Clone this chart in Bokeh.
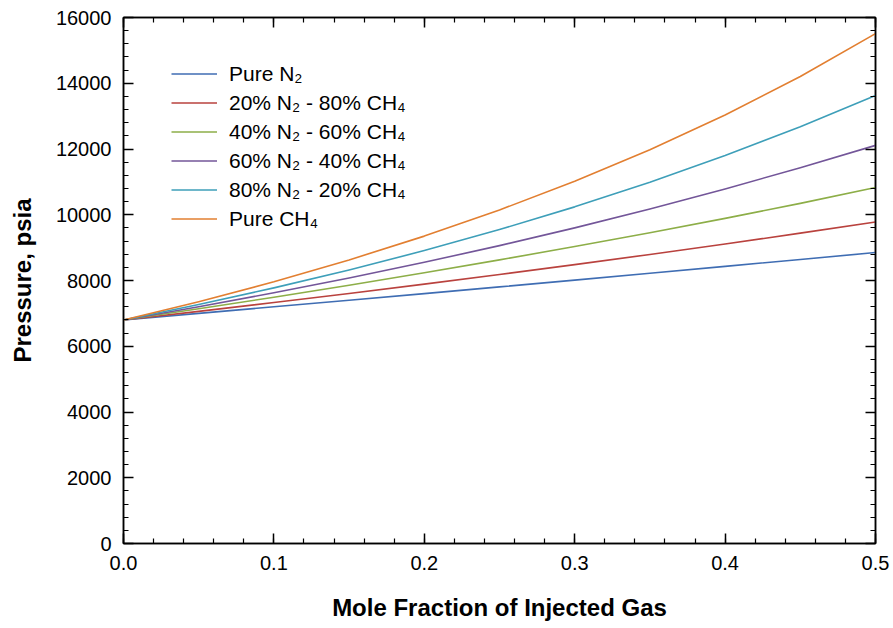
from bokeh.plotting import figure
from bokeh.models import (LinearAxis, Range1d, Legend, LegendItem, NumeralTickFormatter,
                          FixedTicker, CustomJSTickFormatter)
from bokeh.embed import file_html
from bokeh.resources import INLINE

# Data
mole_fraction = [0.0, 0.05, 0.1, 0.15, 0.2, 0.25, 0.3, 0.35, 0.4, 0.45, 0.5]
pure_n2 = [6800, 7000, 7200, 7400, 7602, 7806, 8012, 8220, 8430, 8640, 8850]
n2_20_ch4_80 = [6800, 7062, 7331, 7607, 7891, 8183, 8483, 8792, 9110, 9440, 9780]
n2_40_ch4_60 = [6800, 7140, 7492, 7857, 8235, 8627, 9033, 9454, 9890, 10345, 10830]
n2_60_ch4_40 = [6800, 7200, 7625, 8075, 8553, 9061, 9601, 10175, 10785, 11430, 12110]
n2_80_ch4_20 = [6800, 7270, 7775, 8320, 8910, 9550, 10240, 10990, 11800, 12675, 13630]
pure_ch4 = [6800, 7355, 7960, 8625, 9350, 10145, 11020, 11980, 13035, 14205, 15510]

series_names = ["Pure N₂", "20% N₂ - 80% CH₄", "40% N₂ - 60% CH₄",
                "60% N₂ - 40% CH₄", "80% N₂ - 20% CH₄", "Pure CH₄"]
series_values = [pure_n2, n2_20_ch4_80, n2_40_ch4_60, n2_60_ch4_40, n2_80_ch4_20, pure_ch4]
colors = ["#3F6DB3", "#B9423E", "#8DAE48", "#735699", "#3E9FB9", "#E27F31"]

x_ticks = [0.0, 0.1, 0.2, 0.3, 0.4, 0.5]
y_ticks = [0, 2000, 4000, 6000, 8000, 10000, 12000, 14000, 16000]

FONT = "Liberation Sans"

p = figure(width=893, height=628, output_backend="svg", toolbar_location=None,
           x_range=Range1d(0, 0.5), y_range=Range1d(0, 16000),
           min_border_left=123, min_border_right=18, min_border_top=17, min_border_bottom=85)
p.xgrid.visible = False
p.ygrid.visible = False
p.outline_line_color = "black"
p.outline_line_width = 1.5
p.background_fill_color = "white"
p.border_fill_color = "white"

renderers = []
for name, vals, c in zip(series_names, series_values, colors):
    r = p.line(mole_fraction, vals, line_color=c, line_width=1.6, line_join="round")
    renderers.append((name, r))

def style_axis(ax, labels=True):
    ax.axis_line_color = "black"
    ax.axis_line_width = 1.5
    ax.major_tick_in = 10
    ax.major_tick_out = 0
    ax.minor_tick_in = 5
    ax.minor_tick_out = 0
    ax.major_tick_line_color = "black"
    ax.minor_tick_line_color = "black"
    ax.major_tick_line_width = 1.5
    ax.minor_tick_line_width = 1.2
    ax.major_label_text_font = FONT
    ax.major_label_text_font_size = "20px" if labels else "1px"
    ax.major_label_text_color = "black"
    ax.axis_label_text_color = "black"

xb = p.xaxis[0]
xb.ticker = FixedTicker(ticks=x_ticks, minor_ticks=[i * 0.02 for i in range(26)])
xb.formatter = NumeralTickFormatter(format="0.0")
style_axis(xb)
xb.major_label_standoff = 12
xb.axis_label = "Mole Fraction of Injected Gas"
xb.axis_label_text_font = FONT
xb.axis_label_text_font_style = "bold"
xb.axis_label_text_font_size = "24px"
xb.axis_label_standoff = 21

yl = p.yaxis[0]
yl.ticker = FixedTicker(ticks=y_ticks, minor_ticks=[i * 400 for i in range(41)])
style_axis(yl)
yl.major_label_standoff = 12
yl.axis_label = "Pressure, psia"
yl.axis_label_text_font = FONT
yl.axis_label_text_font_style = "bold"
yl.axis_label_text_font_size = "24px"
yl.axis_label_standoff = 17

blank = CustomJSTickFormatter(code="return ''")

xt = LinearAxis(ticker=FixedTicker(ticks=x_ticks, minor_ticks=[i * 0.02 for i in range(26)]),
                formatter=blank)
style_axis(xt, labels=False)
xt.major_label_standoff = 0
p.add_layout(xt, "above")

yr = LinearAxis(ticker=FixedTicker(ticks=y_ticks, minor_ticks=[i * 400 for i in range(41)]),
                formatter=blank)
style_axis(yr, labels=False)
yr.major_label_standoff = 0
p.add_layout(yr, "right")

legend = Legend(items=[LegendItem(label=n, renderers=[r]) for n, r in renderers],
                location=(48, 310))
legend.border_line_color = None
legend.background_fill_alpha = 0
legend.padding = 0
legend.margin = 0
legend.spacing = 0
legend.label_height = 29
legend.glyph_height = 29
legend.glyph_width = 46
legend.label_standoff = 12
legend.label_text_font = FONT
legend.label_text_font_size = "21px"
legend.label_text_color = "black"
p.add_layout(legend, "center")

open("out.html", "w").write(file_html(p, INLINE))
